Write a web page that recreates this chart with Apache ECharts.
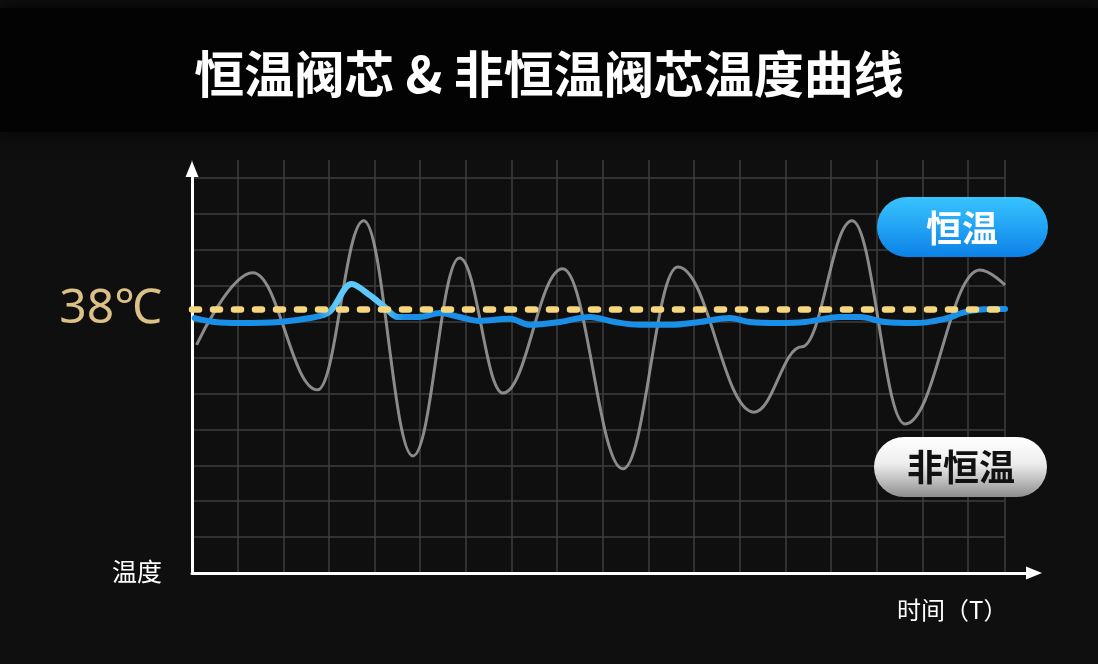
<!DOCTYPE html>
<html><head><meta charset="utf-8">
<script src="https://cdn.jsdelivr.net/npm/echarts@6/dist/echarts.min.js"></script>
<style>html,body{margin:0;padding:0;background:#0f0f0f;} #c{width:1098px;height:664px;}</style>
</head><body><div id="c"></div>
<script>
// ---- data ----
const titleText = '恒温阀芯 & 非恒温阀芯温度曲线';
const seriesNames = ['非恒温', '恒温'];
const refLabel = '38℃';
const refValue = 7.34;          // 38℃ level in grid units
const xName = '时间（T）';
const yName = '温度';
const xMax = 17.81;
const yMax = 11;

// non-constant-temperature curve (extrema), time vs temperature (grid units)
const nonConstT = [0.10, 1.33, 2.75, 3.76, 4.84, 5.86, 6.81, 8.12, 9.44, 10.64, 12.31, 13.36, 14.46, 15.62, 17.26, 17.81];
const nonConstV = [6.35, 8.36, 5.10, 9.81, 3.26, 8.77, 5.01, 8.47, 2.90, 8.52, 4.48, 6.30, 9.81, 4.15, 8.44, 8.02];

// constant-temperature curve
const constT = [0.06, 0.50, 1.04, 1.92, 2.58, 3.01, 3.50, 3.89, 4.22, 4.51, 4.99, 5.43, 5.86, 6.30, 6.96, 7.40, 8.06, 8.71, 9.26, 9.81, 10.47, 11.12, 11.78, 12.22, 12.88, 13.43, 14.19, 14.63, 15.18, 15.84, 16.50, 16.95, 17.48, 17.81];
const constV = [7.10, 6.99, 6.96, 6.99, 7.10, 7.27, 8.05, 7.74, 7.41, 7.13, 7.13, 7.24, 7.13, 7.02, 7.08, 6.91, 6.99, 7.13, 6.99, 6.91, 6.91, 6.99, 7.10, 6.99, 6.96, 6.99, 7.13, 7.13, 6.99, 6.96, 7.08, 7.27, 7.35, 7.35];

const nonConstData = nonConstT.map((t, i) => [t, nonConstV[i]]);
const constData = constT.map((t, i) => [t, constV[i]]);

const chart = echarts.init(document.getElementById('c'));
const CJK = '"Noto Sans CJK SC", "Noto Sans", sans-serif';
const gridColor = '#3e3e3e';

chart.setOption({
  backgroundColor: '#0f0f0f',
  title: {
    text: titleText, left: 'center', top: 44,
    textStyle: { color: '#ffffff', fontSize: 50, fontWeight: 'bold', fontFamily: CJK }
  },
  grid: [
    { left: 192, right: 93, top: 178, bottom: 91 },
    { left: 192, right: 93, top: 160, bottom: 91 },
    { left: 192, right: 64, top: 169, bottom: 91 }
  ],
  xAxis: [
    { gridIndex: 0, type: 'value', min: 0, max: xMax, interval: 1,
      axisLine: { show: false }, axisTick: { show: false }, axisLabel: { show: false }, splitLine: { show: false } },
    { gridIndex: 1, type: 'value', min: 0, max: xMax, interval: 1,
      axisLine: { show: false }, axisTick: { show: false }, axisLabel: { show: false },
      splitLine: { show: true, lineStyle: { color: gridColor, width: 1.5 } } },
    { gridIndex: 2, type: 'value', min: 0, max: 1,
      axisLine: { show: true, onZero: false, symbol: ['none', 'triangle'], symbolSize: [13, 16],
        lineStyle: { color: '#ffffff', width: 3 } },
      axisTick: { show: false }, axisLabel: { show: false }, splitLine: { show: false } }
  ],
  yAxis: [
    { gridIndex: 0, type: 'value', min: 0, max: yMax, interval: 1,
      axisLine: { show: false }, axisTick: { show: false }, axisLabel: { show: false },
      splitLine: { show: true, lineStyle: { color: gridColor, width: 1.5 } } },
    { gridIndex: 1, type: 'value', min: 0, max: 1,
      axisLine: { show: false }, axisTick: { show: false }, axisLabel: { show: false }, splitLine: { show: false } },
    { gridIndex: 2, type: 'value', min: 0, max: 1,
      axisLine: { show: true, onZero: false, symbol: ['none', 'triangle'], symbolSize: [13, 16],
        lineStyle: { color: '#ffffff', width: 3 } },
      axisTick: { show: false }, axisLabel: { show: false }, splitLine: { show: false } }
  ],
  series: [
    {
      name: seriesNames[0], type: 'line', xAxisIndex: 0, yAxisIndex: 0,
      data: nonConstData, smooth: 0.4, smoothMonotone: 'x', showSymbol: false, silent: true,
      lineStyle: { color: 'rgba(160,160,160,0.85)', width: 3 }, z: 2
    },
    {
      name: seriesNames[1], type: 'line', xAxisIndex: 0, yAxisIndex: 0,
      data: constData, smooth: 0.35, showSymbol: false, silent: true,
      lineStyle: {
        width: 6, cap: 'round', join: 'round',
        color: new echarts.graphic.LinearGradient(0, 0, 1, 0, [
          { offset: 0, color: '#1a8fe8' },
          { offset: 0.155, color: '#1a8fe8' },
          { offset: 0.175, color: '#5cc9fa' },
          { offset: 0.23, color: '#5cc9fa' },
          { offset: 0.26, color: '#1a8fe8' },
          { offset: 1, color: '#1a8fe8' }
        ])
      },
      z: 3,
      markLine: {
        silent: true, symbol: ['none', 'none'], z: 6,
        data: [{ yAxis: refValue }],
        lineStyle: { color: '#f6d67f', width: 6.5, type: [7, 14], cap: 'round' },
        label: {
          show: true, position: 'start', formatter: refLabel, distance: 30,
          fontSize: 48, fontFamily: '"Noto Sans", sans-serif', color: '#dcc186'
        },
        emphasis: { disabled: true }
      }
    }
  ],
  graphic: [
    { type: 'rect', z: -10, silent: true, shape: { x: 0, y: 8, width: 1098, height: 124 },
      style: { fill: '#030303', shadowBlur: 18, shadowColor: 'rgba(0,0,0,0.9)' } },
    { type: 'text', silent: true, style: { text: yName, x: 112, y: 571, textVerticalAlign: 'middle',
        fill: '#ffffff', fontSize: 25, fontFamily: CJK } },
    { type: 'text', silent: true, style: { text: xName, x: 897, y: 610, textVerticalAlign: 'middle',
        fill: '#ffffff', fontSize: 24, fontFamily: CJK } },
    { type: 'group', silent: true, z: 100, children: [
      { type: 'rect', z: 100, shape: { x: 877, y: 197, width: 171, height: 60, r: 30 },
        style: { fill: new echarts.graphic.LinearGradient(0, 0, 0, 1, [
          { offset: 0, color: '#38c4ff' }, { offset: 1, color: '#0c82e8' }]) } },
      { type: 'text', z: 101, style: { text: seriesNames[1], x: 962, y: 228, textAlign: 'center', textVerticalAlign: 'middle',
          fill: '#ffffff', fontSize: 36, fontWeight: 'bold', fontFamily: CJK } }
    ] },
    { type: 'group', silent: true, z: 100, children: [
      { type: 'rect', z: 100, shape: { x: 874, y: 437, width: 173, height: 60, r: 30 },
        style: { fill: new echarts.graphic.LinearGradient(0, 0, 0, 1, [
          { offset: 0, color: '#ffffff' }, { offset: 0.45, color: '#ededed' }, { offset: 1, color: '#8e8e8e' }]) } },
      { type: 'text', z: 101, style: { text: seriesNames[0], x: 961, y: 467, textAlign: 'center', textVerticalAlign: 'middle',
          fill: '#111111', fontSize: 36, fontWeight: 'bold', fontFamily: CJK } }
    ] }
  ]
});
</script>
</body></html>
